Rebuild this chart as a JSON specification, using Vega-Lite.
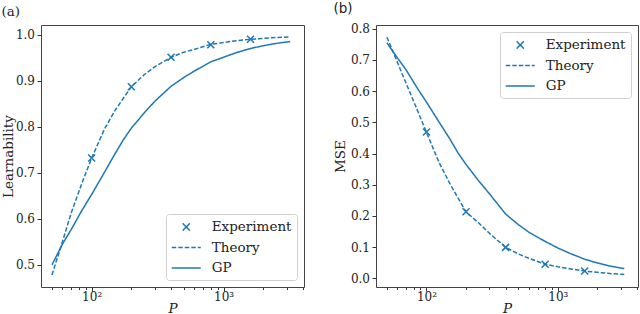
{
  "$schema": "https://vega.github.io/schema/vega-lite/v6.json",
  "padding": {"left": 0, "top": 1, "right": 0, "bottom": 0},
  "spacing": 27,
  "config": {
    "font": "DejaVu Serif",
    "view": {"stroke": "#444", "strokeWidth": 1},
    "axis": {
      "grid": false, "domain": false, "tickColor": "#333", "tickWidth": 1,
      "labelFont": "DejaVu Serif", "labelFontSize": 12, "labelColor": "#222",
      "titleFont": "DejaVu Serif", "titleFontSize": 13.5, "titleFontWeight": "normal", "titleColor": "#222"
    },
    "legend": {
      "title": null, "offset": 7,
      "fillColor": "white", "strokeColor": "#d0d0d0", "cornerRadius": 3, "padding": 5,
      "labelFont": "DejaVu Serif", "labelFontSize": 13.5, "labelColor": "#222",
      "symbolSize": 210, "rowPadding": 5.5, "symbolOffset": 7.25, "labelOffset": 17.5
    }
  },
  "datasets": {
    "learn": [
      {"P": 50, "value": 0.478, "series": "Theory"},
      {"P": 60, "value": 0.55, "series": "Theory"},
      {"P": 70, "value": 0.613, "series": "Theory"},
      {"P": 85, "value": 0.68, "series": "Theory"},
      {"P": 100, "value": 0.732, "series": "Theory"},
      {"P": 125, "value": 0.795, "series": "Theory"},
      {"P": 150, "value": 0.835, "series": "Theory"},
      {"P": 175, "value": 0.863, "series": "Theory"},
      {"P": 200, "value": 0.887, "series": "Theory"},
      {"P": 250, "value": 0.913, "series": "Theory"},
      {"P": 300, "value": 0.93, "series": "Theory"},
      {"P": 400, "value": 0.951, "series": "Theory"},
      {"P": 500, "value": 0.962, "series": "Theory"},
      {"P": 600, "value": 0.968, "series": "Theory"},
      {"P": 800, "value": 0.979, "series": "Theory"},
      {"P": 1000, "value": 0.983, "series": "Theory"},
      {"P": 1250, "value": 0.987, "series": "Theory"},
      {"P": 1600, "value": 0.99, "series": "Theory"},
      {"P": 2000, "value": 0.992, "series": "Theory"},
      {"P": 2500, "value": 0.994, "series": "Theory"},
      {"P": 3200, "value": 0.995, "series": "Theory"},
      {"P": 50, "value": 0.5, "series": "GP"},
      {"P": 60, "value": 0.545, "series": "GP"},
      {"P": 70, "value": 0.577, "series": "GP"},
      {"P": 85, "value": 0.62, "series": "GP"},
      {"P": 100, "value": 0.653, "series": "GP"},
      {"P": 125, "value": 0.701, "series": "GP"},
      {"P": 150, "value": 0.741, "series": "GP"},
      {"P": 175, "value": 0.773, "series": "GP"},
      {"P": 200, "value": 0.797, "series": "GP"},
      {"P": 250, "value": 0.83, "series": "GP"},
      {"P": 300, "value": 0.855, "series": "GP"},
      {"P": 400, "value": 0.888, "series": "GP"},
      {"P": 500, "value": 0.907, "series": "GP"},
      {"P": 600, "value": 0.921, "series": "GP"},
      {"P": 800, "value": 0.941, "series": "GP"},
      {"P": 1000, "value": 0.951, "series": "GP"},
      {"P": 1250, "value": 0.961, "series": "GP"},
      {"P": 1600, "value": 0.97, "series": "GP"},
      {"P": 2000, "value": 0.976, "series": "GP"},
      {"P": 2500, "value": 0.981, "series": "GP"},
      {"P": 3200, "value": 0.985, "series": "GP"},
      {"P": 100, "value": 0.732, "series": "Experiment"},
      {"P": 200, "value": 0.887, "series": "Experiment"},
      {"P": 400, "value": 0.951, "series": "Experiment"},
      {"P": 800, "value": 0.978, "series": "Experiment"},
      {"P": 1600, "value": 0.99, "series": "Experiment"}
    ],
    "mse": [
      {"P": 50, "value": 0.773, "series": "Theory"},
      {"P": 60, "value": 0.693, "series": "Theory"},
      {"P": 70, "value": 0.625, "series": "Theory"},
      {"P": 85, "value": 0.54, "series": "Theory"},
      {"P": 100, "value": 0.468, "series": "Theory"},
      {"P": 125, "value": 0.37, "series": "Theory"},
      {"P": 150, "value": 0.305, "series": "Theory"},
      {"P": 175, "value": 0.255, "series": "Theory"},
      {"P": 200, "value": 0.213, "series": "Theory"},
      {"P": 250, "value": 0.177, "series": "Theory"},
      {"P": 300, "value": 0.145, "series": "Theory"},
      {"P": 400, "value": 0.099, "series": "Theory"},
      {"P": 500, "value": 0.078, "series": "Theory"},
      {"P": 600, "value": 0.064, "series": "Theory"},
      {"P": 800, "value": 0.045, "series": "Theory"},
      {"P": 1000, "value": 0.037, "series": "Theory"},
      {"P": 1250, "value": 0.03, "series": "Theory"},
      {"P": 1600, "value": 0.023, "series": "Theory"},
      {"P": 2000, "value": 0.019, "series": "Theory"},
      {"P": 2500, "value": 0.015, "series": "Theory"},
      {"P": 3200, "value": 0.012, "series": "Theory"},
      {"P": 50, "value": 0.755, "series": "GP"},
      {"P": 60, "value": 0.707, "series": "GP"},
      {"P": 70, "value": 0.668, "series": "GP"},
      {"P": 85, "value": 0.61, "series": "GP"},
      {"P": 100, "value": 0.565, "series": "GP"},
      {"P": 125, "value": 0.5, "series": "GP"},
      {"P": 150, "value": 0.448, "series": "GP"},
      {"P": 175, "value": 0.4, "series": "GP"},
      {"P": 200, "value": 0.365, "series": "GP"},
      {"P": 250, "value": 0.312, "series": "GP"},
      {"P": 300, "value": 0.272, "series": "GP"},
      {"P": 400, "value": 0.206, "series": "GP"},
      {"P": 500, "value": 0.172, "series": "GP"},
      {"P": 600, "value": 0.148, "series": "GP"},
      {"P": 800, "value": 0.118, "series": "GP"},
      {"P": 1000, "value": 0.097, "series": "GP"},
      {"P": 1250, "value": 0.079, "series": "GP"},
      {"P": 1600, "value": 0.061, "series": "GP"},
      {"P": 2000, "value": 0.049, "series": "GP"},
      {"P": 2500, "value": 0.039, "series": "GP"},
      {"P": 3200, "value": 0.031, "series": "GP"},
      {"P": 100, "value": 0.469, "series": "Experiment"},
      {"P": 200, "value": 0.213, "series": "Experiment"},
      {"P": 400, "value": 0.099, "series": "Experiment"},
      {"P": 800, "value": 0.045, "series": "Experiment"},
      {"P": 1600, "value": 0.0235, "series": "Experiment"}
    ]
  },
  "hconcat": [
    {
      "title": {"text": "(a)", "anchor": "start", "frame": "bounds", "font": "DejaVu Serif", "fontSize": 13.5, "fontWeight": "normal", "color": "#222", "offset": 7},
      "width": 263, "height": 262,
      "data": {"name": "learn"},
      "encoding": {
        "x": {"field": "P", "type": "quantitative", "title": "P",
          "scale": {"type": "log", "domain": [41.3, 4070], "nice": false},
          "axis": {"values": [50,60,70,80,90,100,200,300,400,500,600,700,800,900,1000,2000,3000,4000],
            "labelExpr": "datum.value == 100 ? '10²' : datum.value == 1000 ? '10³' : ''",
            "tickSize": {"condition": {"test": "datum.value == 100 || datum.value == 1000", "value": 4}, "value": 2.5},
            "labelPadding": 0, "titleFontStyle": "italic", "titlePadding": -1, "labelOverlap": false, "labelFlush": false}},
        "y": {"field": "value", "type": "quantitative", "title": "Learnability",
          "scale": {"domain": [0.452, 1.021], "nice": false, "zero": false},
          "axis": {"values": [0.5,0.6,0.7,0.8,0.9,1.0], "format": ".1f", "tickSize": 4, "labelPadding": 2.5, "titlePadding": 0}},
        "color": {"field": "series", "type": "nominal",
          "scale": {"domain": ["Experiment","Theory","GP"], "range": ["#1f77b4","#1f77b4","#1f77b4"]},
          "legend": {"orient": "bottom-right",
            "encode": {"symbols": {"update": {
              "shape": {"signal": "datum.value == 'Experiment' ? 'M-0.5,-0.5L0.5,0.5M0.5,-0.5L-0.5,0.5' : 'M-2,0L2,0'"},
              "strokeDash": {"signal": "datum.value == 'Theory' ? [4.5,2] : [1,0]"},
              "stroke": {"value": "#1f77b4"}, "fill": {"value": "transparent"},
              "strokeWidth": {"value": 1.5}, "opacity": {"value": 1}}}}}}
      },
      "layer": [
        {"transform": [{"filter": "datum.series != 'Experiment'"}],
         "mark": {"type": "line", "strokeWidth": 1.5},
         "encoding": {"strokeDash": {"field": "series", "type": "nominal",
            "scale": {"domain": ["Theory","GP"], "range": [[4.5,2],[1,0]]}, "legend": null}}},
        {"transform": [{"filter": "datum.series == 'Experiment'"}],
         "mark": {"type": "point", "shape": "M-1,-1L1,1M1,-1L-1,1", "size": 49, "filled": false, "strokeWidth": 1.5, "opacity": 1}}
      ]
    },
    {
      "title": {"text": "(b)", "anchor": "start", "frame": "bounds", "font": "DejaVu Sans", "fontSize": 13.5, "fontWeight": "normal", "color": "#222", "offset": 7},
      "width": 262, "height": 262,
      "data": {"name": "mse"},
      "encoding": {
        "x": {"field": "P", "type": "quantitative", "title": "P",
          "scale": {"type": "log", "domain": [41.3, 4070], "nice": false},
          "axis": {"values": [50,60,70,80,90,100,200,300,400,500,600,700,800,900,1000,2000,3000,4000],
            "labelExpr": "datum.value == 100 ? '10²' : datum.value == 1000 ? '10³' : ''",
            "tickSize": {"condition": {"test": "datum.value == 100 || datum.value == 1000", "value": 4}, "value": 2.5},
            "labelPadding": 0, "titleFontStyle": "italic", "titlePadding": -1, "labelOverlap": false, "labelFlush": false}},
        "y": {"field": "value", "type": "quantitative", "title": "MSE",
          "scale": {"domain": [-0.028, 0.812], "nice": false, "zero": false},
          "axis": {"values": [0,0.1,0.2,0.3,0.4,0.5,0.6,0.7,0.8], "format": ".1f", "tickSize": 4, "labelPadding": 2.5, "titlePadding": 3}},
        "color": {"field": "series", "type": "nominal",
          "scale": {"domain": ["Experiment","Theory","GP"], "range": ["#1f77b4","#1f77b4","#1f77b4"]},
          "legend": {"orient": "top-right",
            "encode": {"symbols": {"update": {
              "shape": {"signal": "datum.value == 'Experiment' ? 'M-0.5,-0.5L0.5,0.5M0.5,-0.5L-0.5,0.5' : 'M-2,0L2,0'"},
              "strokeDash": {"signal": "datum.value == 'Theory' ? [4.5,2] : [1,0]"},
              "stroke": {"value": "#1f77b4"}, "fill": {"value": "transparent"},
              "strokeWidth": {"value": 1.5}, "opacity": {"value": 1}}}}}}
      },
      "layer": [
        {"transform": [{"filter": "datum.series != 'Experiment'"}],
         "mark": {"type": "line", "strokeWidth": 1.5},
         "encoding": {"strokeDash": {"field": "series", "type": "nominal",
            "scale": {"domain": ["Theory","GP"], "range": [[4.5,2],[1,0]]}, "legend": null}}},
        {"transform": [{"filter": "datum.series == 'Experiment'"}],
         "mark": {"type": "point", "shape": "M-1,-1L1,1M1,-1L-1,1", "size": 49, "filled": false, "strokeWidth": 1.5, "opacity": 1}}
      ]
    }
  ],
  "resolve": {"scale": {"color": "independent", "strokeDash": "independent"}}
}
